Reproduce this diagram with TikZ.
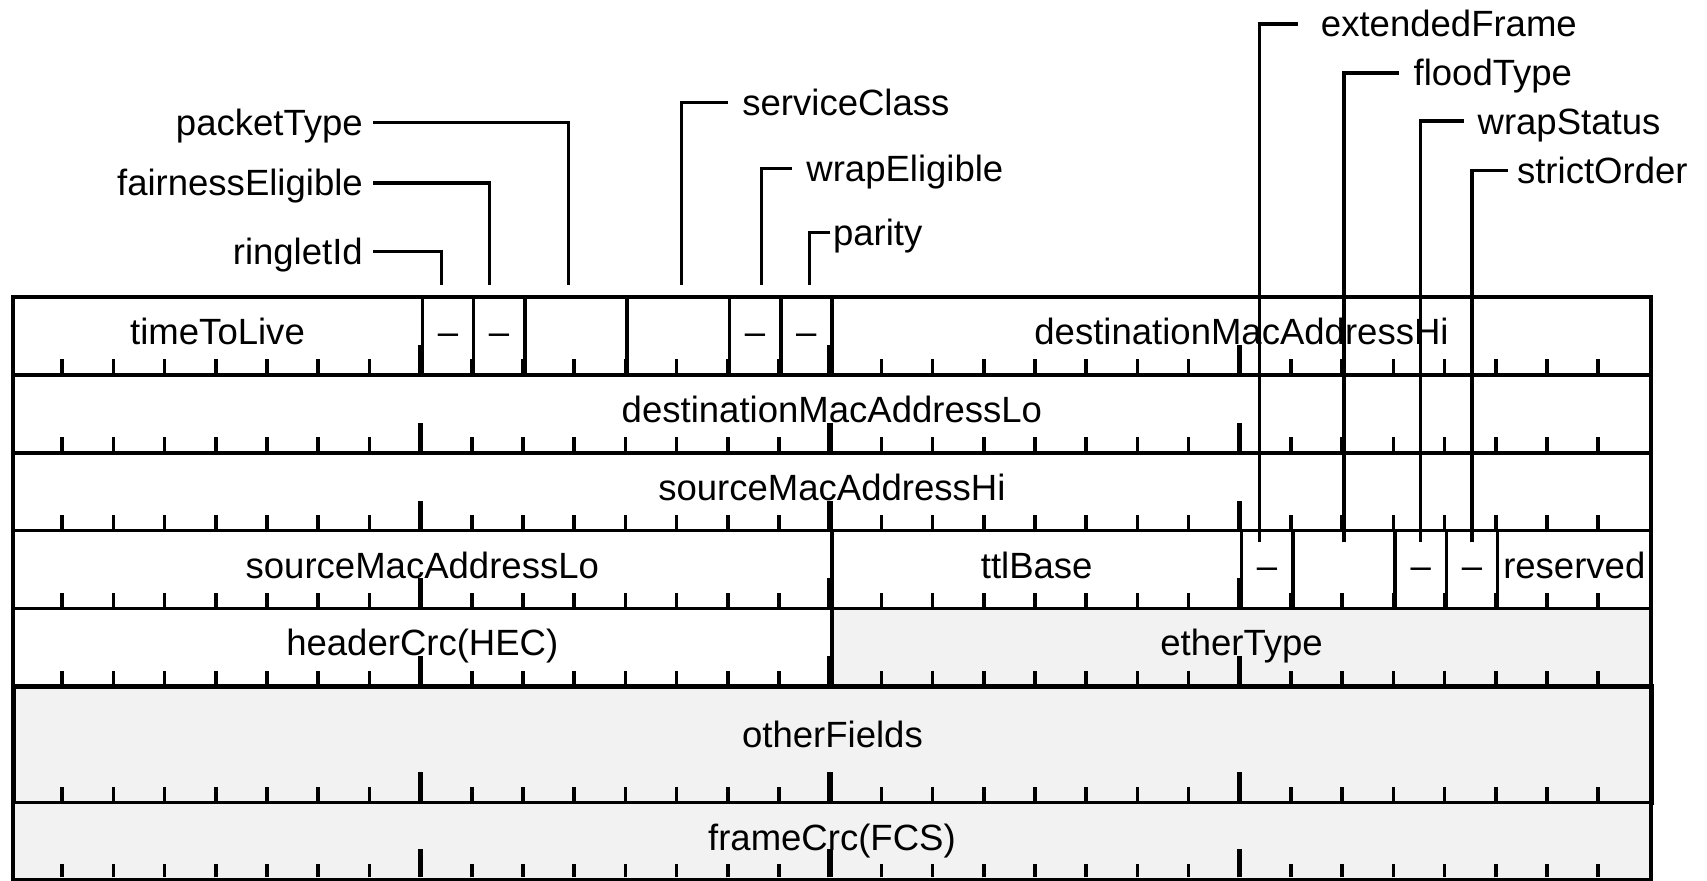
\documentclass[tikz,border=0pt]{standalone}
\usepackage{fontspec}
\setmainfont{Liberation Sans}
\usepackage{tikz}
\usetikzlibrary{positioning,calc}

\begin{document}
\begin{tikzpicture}[
    font=\fontsize{20.3}{24}\selectfont,
    field/.style={draw=black,line width=2pt,rectangle,anchor=north west,
      minimum height=1.52cm,inner sep=0pt,text height=0.88cm,text depth=0.54cm},
    shaded/.style={field,fill=black!5},
    lbl/.style={inner ysep=0pt,inner xsep=0.28cm,text height=14.3pt,text depth=0pt},
    lead/.style={draw=black,line width=1.9pt},
    tick/.style={line width=2pt},
    bigtick/.style={line width=3pt}
  ]
  \useasboundingbox (-0.213,-0.053) rectangle (33.127,17.137);

  % first word
  \node[field,minimum width=8cm] (fTTL) at (0,11.37) {timeToLive};
  \node[field,minimum width=1cm] (fRinglet) at (8,11.37) {\textendash};
  \node[field,minimum width=1cm] (fFair) at (9,11.37) {\textendash};
  \node[field,minimum width=2cm] (fPkt) at (10,11.37) {};
  \node[field,minimum width=2cm] (fSvc) at (12,11.37) {};
  \node[field,minimum width=1cm] (fWrapE) at (14,11.37) {\textendash};
  \node[field,minimum width=1cm] (fParity) at (15,11.37) {\textendash};
  \node[field,minimum width=16cm] (fDstHi) at (16,11.37) {destinationMacAddressHi};

  \node[field,minimum width=32cm] (fDstLo) at (0,9.85) {destinationMacAddressLo};
  \node[field,minimum width=32cm] (fSrcHi) at (0,8.33) {sourceMacAddressHi};

  \node[field,minimum width=16cm] (fSrcLo) at (0,6.81) {sourceMacAddressLo};
  \node[field,minimum width=8cm] (fTtlBase) at (16,6.81) {ttlBase};
  \node[field,minimum width=1cm] (fExt) at (24,6.81) {\textendash};
  \node[field,minimum width=2cm] (fFlood) at (25,6.81) {};
  \node[field,minimum width=1cm] (fWrapS) at (27,6.81) {\textendash};
  \node[field,minimum width=1cm] (fStrict) at (28,6.81) {\textendash};
  \node[field,minimum width=3cm] (fRsvd) at (29,6.81) {reserved};

  \node[field,minimum width=16cm] (fHec) at (0,5.29) {headerCrc(HEC)};
  \node[shaded,minimum width=16cm] (fEther) at (16,5.29) {etherType};
  \node[shaded,minimum width=32cm,minimum height=2.27cm,line width=2.6pt,
    text height=0.9cm,text depth=0.81cm] (fOther) at (0,3.77) {otherFields};
  \node[shaded,minimum width=32cm] (fFcs) at (0,1.50) {frameCrc(FCS)};

  % bit ticks
  \foreach \yb in {0,1.50,3.77,5.29,6.81,8.33,9.85}{
    \foreach \b in {1,...,31}
      \draw[tick] (\b,\yb) -- ++(0,0.27);
    \foreach \b in {8,16,24}
      \draw[bigtick] (\b,\yb) -- ++(0,0.55);
  }

  % field names
  \node[lbl,anchor=east,inner xsep=0.2cm] (lRinglet) at (7.08,12.22) {ringletId};
  \node[lbl,anchor=east,inner xsep=0.2cm] (lFair) at (7.08,13.56) {fairnessEligible};
  \node[lbl,anchor=east,inner xsep=0.2cm] (lPkt) at (7.08,14.74) {packetType};
  \node[lbl,anchor=west] (lSvc) at (14.0,15.13) {serviceClass};
  \node[lbl,anchor=west] (lWrapE) at (15.25,13.85) {wrapEligible};
  \node[lbl,anchor=west,inner xsep=0.05cm] (lParity) at (16.0,12.6) {parity};
  \node[lbl,anchor=west,inner xsep=0.45cm] (lExt) at (25.13,16.67) {extendedFrame};
  \node[lbl,anchor=west] (lFlood) at (27.11,15.71) {floodType};
  \node[lbl,anchor=west,inner xsep=0.26cm] (lWrapS) at (28.38,14.77) {wrapStatus};
  \node[lbl,anchor=west,inner xsep=0.17cm] (lStrict) at (29.24,13.81) {strictOrder};

  \draw[lead] (lRinglet.east) -| ([xshift=-0.13cm,yshift=0.2cm]fRinglet.north);
  \draw[lead] (lFair.east) -| ([xshift=-0.19cm,yshift=0.2cm]fFair.north);
  \draw[lead] (lPkt.east) -| ([xshift=-0.15cm,yshift=0.2cm]fPkt.north);
  \draw[lead] (lSvc.west) -| ([xshift=0.06cm,yshift=0.2cm]fSvc.north);
  \draw[lead] (lWrapE.west) -| ([xshift=0.13cm,yshift=0.2cm]fWrapE.north);
  \draw[lead] (lParity.west) -| ([xshift=0.06cm,yshift=0.2cm]fParity.north);
  \draw[lead] (lExt.west) -| ([xshift=-0.15cm,yshift=-0.25cm]fExt.north);
  \draw[lead] (lFlood.west) -| ([yshift=-0.25cm]fFlood.north);
  \draw[lead] (lWrapS.west) -| ([yshift=-0.25cm]fWrapS.north);
  \draw[lead] (lStrict.west) -| ([yshift=-0.25cm]fStrict.north);
\end{tikzpicture}
\end{document}
